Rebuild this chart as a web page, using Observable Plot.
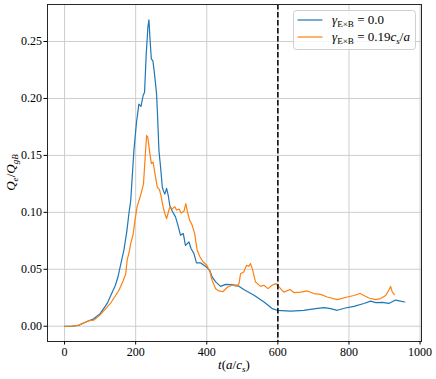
<!DOCTYPE html>
<html><head><meta charset="utf-8">
<script src="https://cdn.jsdelivr.net/npm/d3@7"></script>
<script src="https://cdn.jsdelivr.net/npm/@observablehq/plot@0.6"></script>
<style>body{margin:0;background:#fff} svg{display:block} svg text{font-family:'Liberation Serif','DejaVu Serif',serif !important}</style>
</head><body><div id="chart"></div>
<script>
// Series: gamma_ExB = 0.0 (blue)
const blueT = [0,20,40,55,70,82,100,120,130,143,150,157,167,175,181,186,195,202,209,215,221,225,229.7,234.4,237.3,240,244,248.5,253,258.8,261,265.5,270,275,278,282,287,291.6,296,303,312,319,326,334,340,350,356,364,371,383,392,401,409,415,425,439,453,467,486,504,533,561,584,598,636,673,706,730,748,767,790,814,842,861,875,894,912,931,945,957];
const blueQ = [0,0,0.0008,0.003,0.005,0.0065,0.011,0.02,0.027,0.036,0.043,0.053,0.067,0.083,0.099,0.11,0.154,0.178,0.195,0.193,0.2026,0.2055,0.239,0.2626,0.269,0.254,0.2348,0.233,0.2216,0.204,0.189,0.154,0.14,0.122,0.119,0.116,0.121,0.115,0.106,0.101,0.096,0.0886,0.080,0.0813,0.071,0.074,0.068,0.0638,0.0556,0.0556,0.0535,0.0515,0.0485,0.0433,0.039,0.035,0.0368,0.0366,0.036,0.0322,0.0272,0.0213,0.0155,0.014,0.0132,0.014,0.0155,0.0164,0.0155,0.014,0.016,0.0175,0.02,0.022,0.0208,0.021,0.020,0.023,0.022,0.0213];
// Series: gamma_ExB = 0.19 c_s/a (orange)
const orangeT = [0,20,40,55,70,82,100,129,153,165,172,176,183,186,193,198,204,212,218,222,225,230.7,234,240,244,249,256,261,267,272,277,282,287,292,296,303,310,315,322,328,336,341,346,352,359,366,373,381,390,400,409,415,425,434,445,459,472,486,491,495,504,512,518,523,528,537,551,561,572,584,594,603,617,634,645,664,683,701,720,739,767,795,814,831,842,856,875,889,903,912,917,922,928];
const orangeQ = [0,0,0.001,0.003,0.005,0.0053,0.01,0.02,0.0316,0.040,0.046,0.058,0.067,0.0725,0.081,0.093,0.105,0.113,0.12,0.125,0.14,0.1675,0.166,0.1515,0.143,0.144,0.131,0.122,0.12,0.1135,0.105,0.099,0.0945,0.1003,0.1047,0.103,0.105,0.102,0.103,0.0994,0.101,0.1076,0.10,0.093,0.0886,0.0813,0.0667,0.0608,0.0564,0.0535,0.0477,0.0404,0.033,0.031,0.0303,0.0345,0.036,0.035,0.038,0.046,0.0477,0.0535,0.0526,0.055,0.0506,0.039,0.035,0.036,0.033,0.036,0.0374,0.0345,0.030,0.0322,0.0296,0.030,0.031,0.0287,0.028,0.0257,0.0234,0.0257,0.027,0.0287,0.027,0.0248,0.0234,0.0243,0.027,0.0316,0.035,0.030,0.0278];
const xTicks = [0,200,400,600,800,1000];
const yTicks = [0,0.05,0.10,0.15,0.20,0.25];
const markerT = [600];
const seriesNames = ["γE×B = 0.0", "γE×B = 0.19cs/a"];
const seriesColors = ["#1f77b4", "#ff7f0e"];

const blue = blueT.map((t,i) => ({t, q: blueQ[i]}));
const orange = orangeT.map((t,i) => ({t, q: orangeQ[i]}));

const font = "'Liberation Serif', 'DejaVu Serif', serif";
const chart = Plot.plot({
  width: 436, height: 379,
  marginLeft: 47, marginRight: 15, marginTop: 4, marginBottom: 38,
  style: {fontFamily: font, fontSize: "12px", color: "#000", background: "#fff"},
  x: {domain: [-48, 1004]},
  y: {domain: [-0.0134, 0.2825]},
  marks: [
    Plot.gridX(xTicks, {stroke: "#c8c8c8", strokeOpacity: 1, strokeWidth: 0.9}),
    Plot.gridY(yTicks, {stroke: "#c8c8c8", strokeOpacity: 1, strokeWidth: 0.9}),
    Plot.line(blue, {x: "t", y: "q", stroke: seriesColors[0], strokeWidth: 1.2}),
    Plot.line(orange, {x: "t", y: "q", stroke: seriesColors[1], strokeWidth: 1.2}),
    Plot.ruleX(markerT, {stroke: "#000", strokeWidth: 1.5, strokeDasharray: "5.5,2.5"}),
    Plot.frame({stroke: "#262626", strokeWidth: 1}),
    Plot.axisX(xTicks, {tickSize: 3.5, tickPadding: 2, label: null, tickFormat: d => String(d)}),
    Plot.axisY(yTicks, {tickSize: 3.5, tickPadding: 2, label: null, tickFormat: d3.format(".2f")})
  ]
});
document.getElementById("chart").appendChild(chart);

const svg = d3.select(chart);

function rich(textSel, parts, size) {
  let off = 0;
  parts.forEach(p => {
    const ts = textSel.append("tspan").text(p.t);
    if (p.i) ts.attr("font-style", "italic");
    const target = p.sub ? size * 0.25 : 0;
    ts.attr("dy", target - off);
    off = target;
    if (p.sub) ts.attr("font-size", size * 0.7);
  });
}

// x label
const xl = svg.append("text").attr("x", 234).attr("y", 369)
  .attr("text-anchor", "middle").attr("font-family", font).attr("font-size", 13);
rich(xl, [{t: "t", i: 1}, {t: "("}, {t: "a", i: 1}, {t: "/"}, {t: "c", i: 1}, {t: "s", i: 1, sub: 1}, {t: ")"}], 13);

// y label
const yl = svg.append("text").attr("transform", "translate(15,172.5) rotate(-90)")
  .attr("text-anchor", "middle").attr("font-family", font).attr("font-size", 13);
rich(yl, [{t: "Q", i: 1}, {t: "e", i: 1, sub: 1}, {t: "/"}, {t: "Q", i: 1}, {t: "gB", i: 1, sub: 1}], 13);

// legend
const lg = svg.append("g").attr("text-anchor", "start");
lg.append("rect").attr("x", 293.5).attr("y", 10.5).attr("width", 122).attr("height", 39)
  .attr("rx", 3).attr("fill", "#fff").attr("fill-opacity", 0.8).attr("stroke", "#d0d0d0");
const legendParts = [
  [{t: "γ", i: 1}, {t: "E×B", sub: 1}, {t: " = 0.0"}],
  [{t: "γ", i: 1}, {t: "E×B", sub: 1}, {t: " = 0.19"}, {t: "c", i: 1}, {t: "s", i: 1, sub: 1}, {t: "/"}, {t: "a", i: 1}]
];
[20, 37].forEach((y, k) => {
  lg.append("line").attr("x1", 297.5).attr("x2", 322.5).attr("y1", y).attr("y2", y)
    .attr("stroke", seriesColors[k]).attr("stroke-width", 1.2);
  const tx = lg.append("text").attr("x", 332).attr("y", y + 4).attr("text-anchor", "start")
    .attr("font-family", font).attr("font-size", 13).attr("aria-label", seriesNames[k]);
  rich(tx, legendParts[k], 13);
});
</script>
</body></html>
